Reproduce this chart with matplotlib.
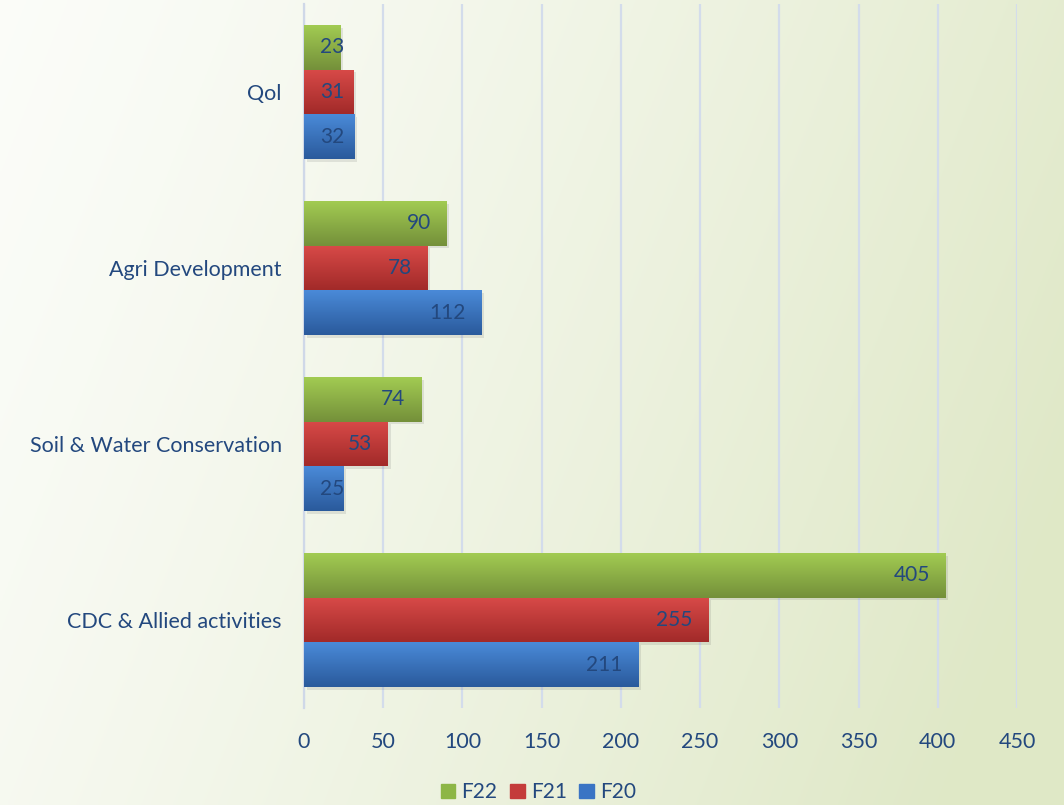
import numpy as np
import matplotlib
matplotlib.use("Agg")
import matplotlib.pyplot as plt
import matplotlib.patheffects as pe
from matplotlib.colors import LinearSegmentedColormap

categories = ["CDC & Allied activities", "Soil & Water Conservation", "Agri Development", "Qol"]
series_names = ["F20", "F21", "F22"]
f20 = [211, 25, 112, 32]
f21 = [255, 53, 78, 31]
f22 = [405, 74, 90, 23]
x_ticks = [0, 50, 100, 150, 200, 250, 300, 350, 400, 450]

series_values = [f20, f21, f22]
# (top colour, bottom colour) for the vertical shading of each series
series_colors = [("#4A8AD8", "#2A5A9C"), ("#D84A48", "#A22A29"), ("#A2CB52", "#74903A")]
legend_colors = ["#3A74C4", "#C43C3A", "#8DB646"]
text_color = "#23487E"

plt.rcParams["font.family"] = ["Lato", "DejaVu Sans"]

fig = plt.figure(figsize=(10.64, 8.05), dpi=100)

# background wash
bg = fig.add_axes([0, 0, 1, 1], zorder=-10)
gx, gy = np.meshgrid(np.linspace(0, 1, 400), np.linspace(0, 1, 300))
t = np.clip(0.85 * gx + 0.25 * gy, 0, 1) ** 1.3
c0 = np.array([0.985, 0.99, 0.975])
c1 = np.array([0.875, 0.91, 0.78])
img = c0[None, None, :] * (1 - t[..., None]) + c1[None, None, :] * t[..., None]
bg.imshow(img, extent=[0, 1, 0, 1], aspect="auto", origin="upper")
bg.set_axis_off()

ax = fig.add_axes([304 / 1064, 1 - 708 / 805, (1017 - 304) / 1064, 704 / 805])
ax.patch.set_alpha(0)

bar_h = 0.254
offsets = [-bar_h, 0, bar_h]
ypos = np.arange(len(categories))

grad = np.linspace(0, 1, 64).reshape(-1, 1)
for vals, off, (ctop, cbot) in zip(series_values, offsets, series_colors):
    cmap = LinearSegmentedColormap.from_list("shade", [ctop, cbot])
    bars = ax.barh(ypos + off, vals, height=bar_h, color=cbot, zorder=3,
                   path_effects=[pe.SimplePatchShadow(offset=(2, -2), alpha=0.12, shadow_rgbFace="#444444"),
                                 pe.Normal()])
    for b, v in zip(bars, vals):
        y0 = b.get_y()
        im = ax.imshow(grad, extent=[0, v, y0, y0 + bar_h], aspect="auto",
                       cmap=cmap, origin="upper", zorder=4, interpolation="bilinear")
        im.set_clip_path(b)
        # value label near the inner end of the bar
        label = str(v)
        est_w = len(label) * 7.4
        if v - 10 - est_w < 10:
            ax.text(10, y0 + bar_h / 2, label, ha="left", va="center",
                    fontsize=15, color=text_color, zorder=6)
        else:
            ax.text(v - 10, y0 + bar_h / 2, label, ha="right", va="center",
                    fontsize=15, color=text_color, zorder=6)

ax.set_xlim(0, 450)
ax.set_ylim(-0.5, len(categories) - 0.5)
ax.set_xticks(x_ticks)
ax.set_xticklabels([str(v) for v in x_ticks])
ax.set_yticks(ypos)
ax.set_yticklabels(categories)
ax.tick_params(axis="both", length=0, labelsize=15.5, labelcolor=text_color)
ax.tick_params(axis="x", pad=17)
ax.tick_params(axis="y", pad=16)
ax.grid(axis="x", color="#D3DCEB", linewidth=1.6, zorder=0)
ax.set_axisbelow(True)
for side in ["top", "right", "bottom"]:
    ax.spines[side].set_visible(False)
ax.spines["left"].set_color("#CFD8E8")
ax.spines["left"].set_linewidth(1.6)

handles = [plt.Rectangle((0, 0), 1, 1, color=c) for c in legend_colors[::-1]]
leg = fig.legend(handles, series_names[::-1], loc="center", bbox_to_anchor=(0.506, 0.016),
                 ncol=3, frameon=False, fontsize=15, handlelength=0.7, handleheight=0.7,
                 handletextpad=0.3, columnspacing=0.6)
for txt in leg.get_texts():
    txt.set_color(text_color)

fig.savefig("out.png", dpi=100)
